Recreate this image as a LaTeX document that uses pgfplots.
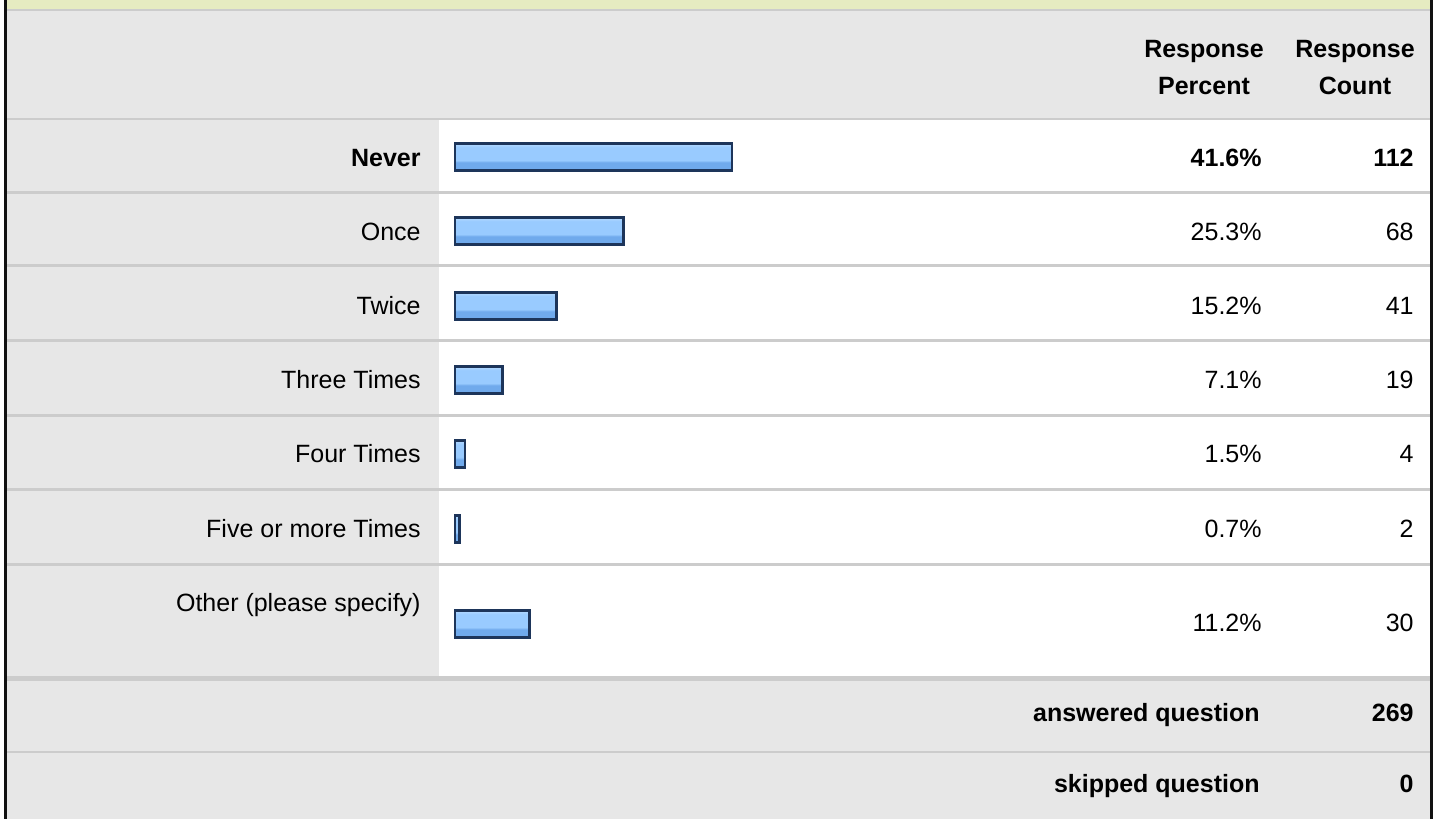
\documentclass[border=0pt]{standalone}
\usepackage{pgfplots}
\pgfplotsset{compat=1.18}
\usepackage{fontspec}
\setmainfont{Liberation Sans}

\definecolor{topband}{HTML}{E6EBC1}
\definecolor{panel}{HTML}{E7E7E7}
\definecolor{rulegray}{HTML}{CCCCCC}
\definecolor{barborder}{HTML}{1D355A}
\definecolor{frame}{HTML}{111111}
\definecolor{bb1}{HTML}{9ACCFF}
\definecolor{bb2}{HTML}{70AAEC}
\definecolor{bb3}{HTML}{99CBFF}
\definecolor{bb4}{HTML}{AAD4FF}
\definecolor{bb5}{HTML}{D2E9FF}
\pgfdeclareverticalshading{barshade}{100bp}{color(0bp)=(bb1); color(16bp)=(bb1); color(20bp)=(bb2); color(40bp)=(bb2); color(44bp)=(bb3); color(68bp)=(bb3); color(72bp)=(bb4); color(86bp)=(bb4); color(90bp)=(bb5); color(100bp)=(bb5)}

\pgfplotsset{surveybar/.style={draw=barborder, line width=1.3pt, shading=barshade, shade}}

\begin{document}
\begin{tikzpicture}
\begin{scope}[x=0.5pt,y=-0.5pt,font=\fontsize{12.5}{15}\selectfont,every node/.style={inner sep=0pt}]
  \path[use as bounding box] (0,0) rectangle (1440,819);
  \fill[white] (0,0) rectangle (1440,819);
  \fill[topband] (7,0) rectangle (1430,9);
  \fill[panel] (7,11) rectangle (1430,118);
  \fill[panel] (7,120) rectangle (439,676);
  \fill[panel] (7,681) rectangle (1430,819);
  % row rules
  \fill[rulegray] (7,9) rectangle (1430,11);
  \fill[rulegray] (7,118) rectangle (1430,120);
  \foreach \yy in {191,264,339,414,488,563}
    \fill[rulegray] (7,\yy) rectangle (1430,\yy+3);
  \fill[rulegray] (7,676) rectangle (1430,681);
  \fill[rulegray] (7,751) rectangle (1430,753);
  % frame
  \fill[frame] (4,0) rectangle (7,819);
  \fill[frame] (1430,0) rectangle (1433,819);
  % header
  \node[font=\fontsize{12.5}{15}\selectfont\bfseries,anchor=base] at (1204,57) {Response};
  \node[font=\fontsize{12.5}{15}\selectfont\bfseries,anchor=base] at (1204,94) {Percent};
  \node[font=\fontsize{12.5}{15}\selectfont\bfseries,anchor=base] at (1355,57) {Response};
  \node[font=\fontsize{12.5}{15}\selectfont\bfseries,anchor=base] at (1355,94) {Count};
  % labels and values
  \node[anchor=base east,font=\fontsize{12.5}{15}\selectfont\bfseries] at (421,166) {Never};
  \node[anchor=base east,font=\fontsize{12.5}{15}\selectfont\bfseries] at (1262,166) {41.6\%};
  \node[anchor=base east,font=\fontsize{12.5}{15}\selectfont\bfseries] at (1414,166) {112};
  \foreach \lab/\pc/\cnt/\yb in {Once/25.3/68/240, Twice/15.2/41/314, Three Times/7.1/19/388, Four Times/1.5/4/462, Five or more Times/0.7/2/537}{
    \node[anchor=base east] at (421,\yb) {\lab};
    \node[anchor=base east] at (1262,\yb) {\pc\%};
    \node[anchor=base east] at (1414,\yb) {\cnt};
  }
  \node[anchor=base east] at (421,611) {Other (please specify)};
  \node[anchor=base east] at (1262,631) {11.2\%};
  \node[anchor=base east] at (1414,631) {30};
  % footer
  \node[anchor=base east,font=\fontsize{12.5}{15}\selectfont\bfseries] at (1260,721) {answered question};
  \node[anchor=base east,font=\fontsize{12.5}{15}\selectfont\bfseries] at (1414,721) {269};
  \node[anchor=base east,font=\fontsize{12.5}{15}\selectfont\bfseries] at (1260,792) {skipped question};
  \node[anchor=base east,font=\fontsize{12.5}{15}\selectfont\bfseries] at (1414,792) {0};
\end{scope}
\begin{axis}[
  at={(0pt,0pt)}, anchor=north west,
  scale only axis, width=720pt, height=409.5pt,
  xmin=-68.32, xmax=147.90,
  ymin=0, ymax=819, y dir=reverse,
  hide axis, clip=false,
  xbar, bar width=27, bar shift=0pt,
]
  % x = response percent, y = row centre (pixels)
  \addplot[surveybar] coordinates {(41.6,157)};
  \addplot[surveybar] coordinates {(25.3,231)};
  \addplot[surveybar] coordinates {(15.2,306)};
  \addplot[surveybar] coordinates {(7.1,380)};
  \addplot[surveybar] coordinates {(1.5,454)};
  \addplot[surveybar] coordinates {(0.7,529)};
  \addplot[surveybar] coordinates {(11.2,624)};
\end{axis}
\end{tikzpicture}
\end{document}
